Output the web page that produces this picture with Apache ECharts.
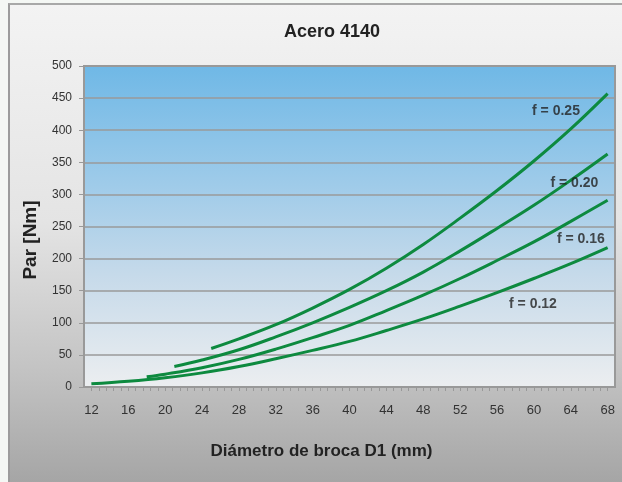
<!DOCTYPE html>
<html>
<head>
<meta charset="utf-8">
<script src="https://cdn.jsdelivr.net/npm/echarts@6/dist/echarts.min.js"></script>
<style>
  html, body { margin: 0; padding: 0; background: #f4f7f4; }
  #frame {
    position: absolute; left: 8px; top: 3px; width: 620px; height: 482px;
    border-left: 2px solid #9c9c9c; border-top: 2px solid #a8a8a8;
    background: linear-gradient(to bottom, #f3f3f3 0%, #e4e4e4 45%, #c4c4c4 75%, #a4a4a4 100%);
  }
  #chart { position: absolute; left: 0; top: 0; width: 622px; height: 482px; }
</style>
</head>
<body>
<div id="frame"></div>
<div id="chart"></div>
<script>
// diametro (mm) y par (Nm)
const d012 = [12, 16, 20, 24, 28, 32, 36, 40, 44, 48, 52, 56, 60, 64, 68]
const v012 = [5, 9, 14.5, 22, 32, 44, 57, 71, 88, 106, 126, 147, 169, 192, 217]

const d016 = [18, 20, 24, 28, 32, 36, 40, 44, 48, 52, 56, 60, 64, 68]
const v016 = [16, 20, 30, 43, 59, 77, 96, 119, 143, 169, 197, 226, 258, 291]

const d020 = [21, 24, 28, 32, 36, 40, 44, 48, 52, 56, 60, 64, 68]
const v020 = [32, 42, 58, 78, 100, 124, 150, 179, 212, 247, 283, 322, 363]

const d025 = [25, 28, 32, 36, 40, 44, 48, 52, 56, 60, 64, 68]
const v025 = [60, 75, 97, 123, 152, 185, 222, 263, 306, 352, 402, 457]

// etiquetas de cada curva
const labelNames = ['f = 0.25', 'f = 0.20', 'f = 0.16', 'f = 0.12']
const labelD = [62.4, 64.4, 65.1, 59.9]
const labelV = [429, 317, 230, 129]

function pairs(xs, ys) {
  return xs.map((x, i) => [x, ys[i]])
}

const green = '#0d8a3f'
const lineSeries = [[d012, v012], [d016, v016], [d020, v020], [d025, v025]].map((s, i) => ({
  name: 'f' + i,
  type: 'line',
  smooth: 0.4,
  showSymbol: false,
  symbol: 'none',
  data: pairs(s[0], s[1]),
  lineStyle: { color: green, width: 3 },
  itemStyle: { color: green },
  z: 3
}))

const myChart = echarts.init(document.getElementById('chart'))

const option = {
  backgroundColor: 'transparent',
  animation: false,
  textStyle: { fontFamily: 'Liberation Sans, Arial, sans-serif' },
  title: {
    text: 'Acero 4140',
    left: 327,
    top: 18,
    textAlign: 'center',
    textStyle: { fontSize: 18, fontWeight: 'bold', color: '#222' }
  },
  grid: {
    left: 84,
    right: 7,
    top: 66,
    bottom: 95,
    show: true,
    borderColor: '#999',
    borderWidth: 2,
    backgroundColor: new echarts.graphic.LinearGradient(0, 0, 0, 1, [
      { offset: 0, color: '#6fb8e6' },
      { offset: 0.35, color: '#9ccae9' },
      { offset: 0.65, color: '#c6daea' },
      { offset: 1, color: '#eceef0' }
    ])
  },
  xAxis: {
    type: 'value',
    min: 11.2,
    max: 68.8,
    interval: 0.8,
    name: 'Diámetro de broca D1 (mm)',
    nameLocation: 'middle',
    nameGap: 56,
    nameTextStyle: { fontSize: 17, fontWeight: 'bold', color: '#222', padding: [0, 56, 0, 0] },
    axisLine: { show: true, lineStyle: { color: '#999', width: 2 } },
    axisTick: { show: true, length: 4, lineStyle: { color: '#999' } },
    splitLine: { show: false },
    axisLabel: {
      margin: 17,
      fontSize: 13,
      color: '#333',
      showMinLabel: false,
      showMaxLabel: false,
      formatter: (v) => {
        const r = Math.round(v)
        return Math.abs(v - r) < 1e-6 && r % 4 === 0 ? String(r) : ''
      }
    }
  },
  yAxis: {
    type: 'value',
    min: 0,
    max: 500,
    interval: 50,
    name: 'Par [Nm]',
    nameLocation: 'middle',
    nameRotate: 90,
    nameGap: 44,
    nameTextStyle: { fontSize: 19, fontWeight: 'bold', color: '#222', padding: [0, 27, 0, 0] },
    axisLine: { show: true, lineStyle: { color: '#999', width: 2 } },
    axisTick: { show: true, length: 5, lineStyle: { color: '#999' } },
    splitLine: { show: true, lineStyle: { color: '#9a9a9a', width: 1.5 } },
    axisLabel: { margin: 12, fontSize: 12, color: '#333' }
  },
  series: [
    ...lineSeries,
    {
      name: 'etiquetas',
      type: 'scatter',
      symbolSize: 0,
      data: pairs(labelD, labelV),
      label: {
        show: true,
        position: 'inside',
        fontSize: 14,
        fontWeight: 'bold',
        color: '#222',
        formatter: (p) => labelNames[p.dataIndex]
      },
      z: 5
    }
  ]
}

myChart.setOption(option)
</script>
</body>
</html>
